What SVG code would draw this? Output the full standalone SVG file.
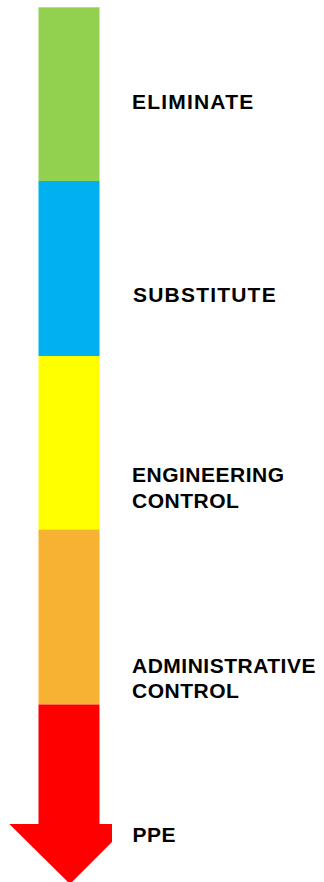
<svg xmlns="http://www.w3.org/2000/svg" width="324" height="882" viewBox="0 0 324 882">
<style>
text{font-family:"Liberation Sans",Arial,sans-serif;font-weight:bold;font-size:21px;fill:#000;letter-spacing:0.5px}
.w{letter-spacing:1.2px}
</style>
<rect width="324" height="882" fill="#fff"/>
<g id="eliminate">
<rect x="38.5" y="7.3" width="61" height="174" fill="#92D050"/>
<text class="w" x="132" y="109">ELIMINATE</text>
</g>
<g id="substitute">
<rect x="38.5" y="181" width="61" height="175" fill="#00B0F0"/>
<text class="w" x="133" y="302">SUBSTITUTE</text>
</g>
<g id="engineering">
<rect x="38.5" y="356" width="61" height="173.5" fill="#FFFF00"/>
<text x="132" y="481.5">ENGINEERING</text>
<text x="132" y="507.5">CONTROL</text>
</g>
<g id="administrative">
<rect x="38.5" y="529.5" width="61" height="175" fill="#F8B233"/>
<text x="132" y="672.5">ADMINISTRATIVE</text>
<text x="132" y="697.5">CONTROL</text>
</g>
<g id="ppe">
<polygon points="38.5,704.5 99.5,704.5 99.5,824 112,824 112,842 70,884 9.3,824 38.5,824" fill="#FF0000"/>
<text x="132.5" y="842">PPE</text>
</g>
<g id="connectors"/>
</svg>
